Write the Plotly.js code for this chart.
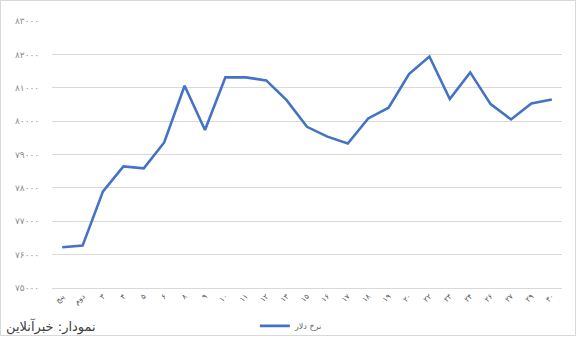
<!DOCTYPE html>
<html>
<head>
<meta charset="utf-8">
<script src="https://cdn.plot.ly/plotly-3.0.1.min.js"></script>
<style>
html,body{margin:0;padding:0;background:#fff;}
#wrap{position:relative;width:577px;height:337px;}
#chart{width:577px;height:337px;}
#frame{position:absolute;left:0;top:0;width:576px;height:336px;box-sizing:border-box;border:1px solid #d9d9d9;pointer-events:none;}
</style>
</head>
<body>
<div id="wrap"><div id="chart"></div><div id="frame"></div></div>
<script>
var categories = ["پنج","دوم","۳","۴","۵","۶","۸","۹","۱۰","۱۱","۱۲","۱۳","۱۵","۱۶","۱۷","۱۸","۱۹","۲۰","۲۲","۲۳","۲۴","۲۶","۲۷","۲۹","۳۰"];
var dollarRate = [76220,76270,77895,78645,78585,79360,81060,79735,81310,81310,81220,80630,79830,79535,79330,80080,80400,81410,81935,80660,81460,80510,80050,80530,80650];
var yTickVals = [75000,76000,77000,78000,79000,80000,81000,82000,83000];
var yTickText = ["۷۵۰۰۰","۷۶۰۰۰","۷۷۰۰۰","۷۸۰۰۰","۷۹۰۰۰","۸۰۰۰۰","۸۱۰۰۰","۸۲۰۰۰","۸۳۰۰۰"];
var seriesName = "نرخ دلار";
var sourceText = "نمودار: خبرآنلاین";

var trace = {
  x: categories,
  y: dollarRate,
  type: "scatter",
  mode: "lines",
  name: seriesName,
  line: {color: "#4472C4", width: 2.6}
};

var layout = {
  width: 577,
  height: 337,
  margin: {l: 52, r: 15, t: 21, b: 49, autoexpand: false},
  paper_bgcolor: "#ffffff",
  plot_bgcolor: "#ffffff",
  font: {family: "DejaVu Sans, sans-serif", color: "#595959", size: 9},
  showlegend: true,
  legend: {
    orientation: "h",
    xref: "container", yref: "container",
    x: 0.505, xanchor: "center",
    y: 0.033, yanchor: "middle",
    font: {size: 8, color: "#595959"},
    bgcolor: "rgba(0,0,0,0)"
  },
  xaxis: {
    type: "category",
    automargin: false,
    range: [-0.5, categories.length - 0.5],
    showgrid: false,
    zeroline: false,
    showline: true,
    linecolor: "#d9d9d9",
    linewidth: 1,
    tickangle: -45,
    ticks: "",
    tickfont: {size: 7.5, color: "#595959"},
    fixedrange: true
  },
  yaxis: {
    automargin: false,
    range: [75000, 83000],
    tickvals: yTickVals,
    ticktext: yTickText,
    showgrid: true,
    gridcolor: "#d9d9d9",
    gridwidth: 1,
    zeroline: false,
    showline: false,
    ticks: "outside",
    ticklen: 10,
    tickcolor: "rgba(0,0,0,0)",
    tickfont: {size: 9, color: "#8c8c8c"},
    fixedrange: true
  },
  annotations: [{
    xref: "paper", yref: "paper",
    x: -0.095, y: -0.105,
    xanchor: "left", yanchor: "top",
    text: sourceText,
    showarrow: false,
    font: {family: "DejaVu Sans, sans-serif", size: 13, color: "#404040"}
  }]
};

Plotly.newPlot("chart", [trace], layout, {displayModeBar: false, staticPlot: true});
</script>
</body>
</html>
